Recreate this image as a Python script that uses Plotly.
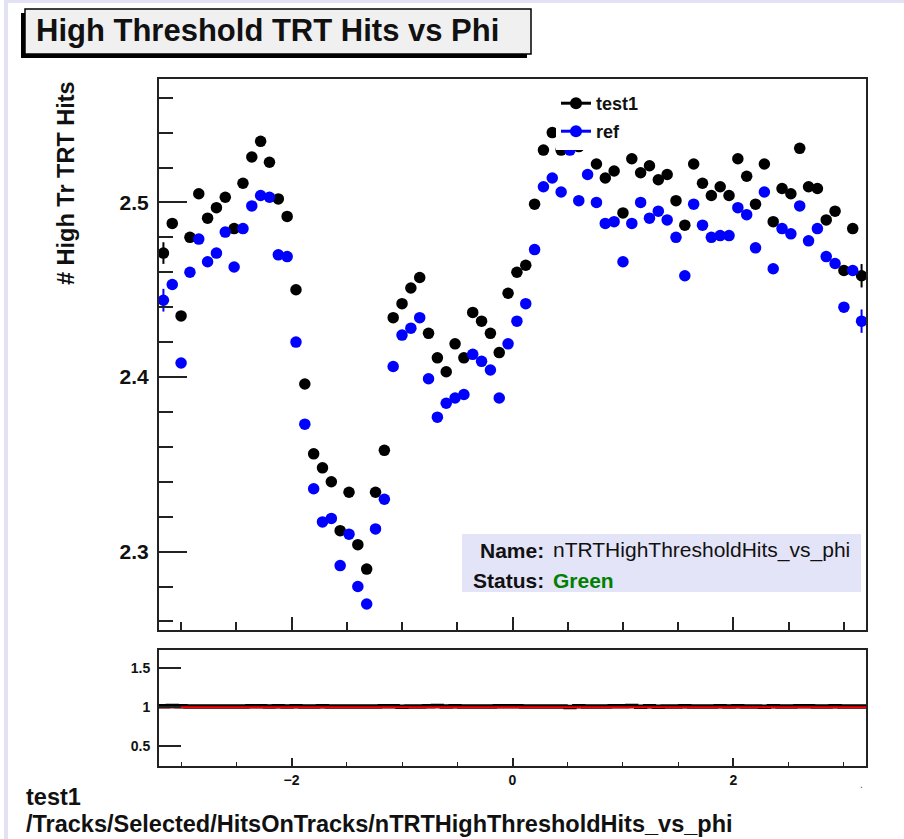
import plotly.graph_objects as go

# ---- histogram binning (phi) ----
PHI_MIN, PHI_MAX, N_BINS = -3.2, 3.2, 80
BIN_W = (PHI_MAX - PHI_MIN) / N_BINS
phi = [round(PHI_MIN + BIN_W * (i + 0.5), 4) for i in range(N_BINS)]
phi_edges = [round(PHI_MIN + BIN_W * i, 4) for i in range(N_BINS + 1)]

# ---- mean number of high-threshold TRT hits per phi bin ----
test1_vals = [
    2.471, 2.488, 2.435, 2.480, 2.505, 2.491, 2.497, 2.503, 2.485, 2.511,
    2.526, 2.535, 2.523, 2.502, 2.492, 2.450, 2.396, 2.356, 2.348, 2.340,
    2.312, 2.334, 2.304, 2.290, 2.334, 2.358, 2.434, 2.442, 2.451, 2.457,
    2.425, 2.411, 2.403, 2.419, 2.411, 2.437, 2.432, 2.425, 2.414, 2.448,
    2.460, 2.464, 2.499, 2.530, 2.540, 2.530, 2.537, 2.532, 2.535, 2.522,
    2.514, 2.518, 2.494, 2.525, 2.517, 2.521, 2.513, 2.516, 2.501, 2.487,
    2.522, 2.511, 2.504, 2.509, 2.504, 2.525, 2.515, 2.499, 2.522, 2.489,
    2.508, 2.505, 2.531, 2.509, 2.508, 2.490, 2.495, 2.461, 2.485, 2.458,
]
test1_errs = [
    0.0062, 0.0030, 0.0028, 0.0025, 0.0025, 0.0025, 0.0025, 0.0025, 0.0025, 0.0025,
    0.0025, 0.0025, 0.0025, 0.0025, 0.0025, 0.0025, 0.0025, 0.0025, 0.0025, 0.0025,
    0.0025, 0.0025, 0.0025, 0.0025, 0.0025, 0.0025, 0.0025, 0.0025, 0.0025, 0.0025,
    0.0025, 0.0025, 0.0025, 0.0025, 0.0025, 0.0025, 0.0025, 0.0025, 0.0025, 0.0025,
    0.0025, 0.0025, 0.0025, 0.0025, 0.0025, 0.0025, 0.0025, 0.0025, 0.0025, 0.0025,
    0.0025, 0.0025, 0.0025, 0.0025, 0.0025, 0.0025, 0.0025, 0.0025, 0.0025, 0.0025,
    0.0025, 0.0025, 0.0025, 0.0025, 0.0025, 0.0025, 0.0025, 0.0025, 0.0025, 0.0025,
    0.0025, 0.0025, 0.0025, 0.0025, 0.0025, 0.0025, 0.0025, 0.0028, 0.0030, 0.0067,
]
ref_vals = [
    2.444, 2.453, 2.408, 2.460, 2.479, 2.466, 2.471, 2.483, 2.463, 2.485,
    2.498, 2.504, 2.503, 2.470, 2.469, 2.420, 2.373, 2.336, 2.317, 2.319,
    2.292, 2.310, 2.280, 2.270, 2.313, 2.330, 2.406, 2.424, 2.428, 2.434,
    2.399, 2.377, 2.385, 2.388, 2.390, 2.413, 2.409, 2.404, 2.388, 2.419,
    2.432, 2.442, 2.473, 2.509, 2.514, 2.506, 2.530, 2.501, 2.516, 2.500,
    2.488, 2.489, 2.466, 2.488, 2.500, 2.491, 2.495, 2.490, 2.480, 2.458,
    2.499, 2.487, 2.480, 2.481, 2.481, 2.497, 2.493, 2.474, 2.506, 2.462,
    2.485, 2.482, 2.498, 2.478, 2.485, 2.469, 2.465, 2.440, 2.461, 2.432,
]
ref_errs = [
    0.0065, 0.0030, 0.0028, 0.0025, 0.0025, 0.0025, 0.0025, 0.0025, 0.0025, 0.0025,
    0.0025, 0.0025, 0.0025, 0.0025, 0.0025, 0.0025, 0.0025, 0.0025, 0.0025, 0.0025,
    0.0025, 0.0025, 0.0025, 0.0025, 0.0025, 0.0025, 0.0025, 0.0025, 0.0025, 0.0025,
    0.0025, 0.0025, 0.0025, 0.0025, 0.0025, 0.0025, 0.0025, 0.0025, 0.0025, 0.0025,
    0.0025, 0.0025, 0.0025, 0.0025, 0.0025, 0.0025, 0.0025, 0.0025, 0.0025, 0.0025,
    0.0025, 0.0025, 0.0025, 0.0025, 0.0025, 0.0025, 0.0025, 0.0025, 0.0025, 0.0025,
    0.0025, 0.0025, 0.0025, 0.0025, 0.0025, 0.0025, 0.0025, 0.0025, 0.0025, 0.0025,
    0.0025, 0.0025, 0.0025, 0.0025, 0.0025, 0.0025, 0.0025, 0.0028, 0.0030, 0.0067,
]

# ratio test1 / ref, drawn as a step histogram over the full phi range
ratio_vals = [t / r for t, r in zip(test1_vals, ref_vals)]
ratio_steps = ratio_vals + [ratio_vals[-1]]

Y_MAIN = [2.2551, 2.5707]
Y_RATIO = [0.25, 1.73]

W, H = 904, 839
FONT = "Liberation Sans"
MARKER = 11.5


def fx(px):
    return px / W


def fy(py):
    return 1 - py / H


fig = go.Figure()

fig.add_trace(go.Scatter(
    x=phi, y=test1_vals, mode="markers", name="test1", showlegend=False,
    marker=dict(color="black", size=MARKER),
    error_y=dict(type="data", array=test1_errs, color="black", thickness=2, width=0),
    xaxis="x", yaxis="y", hoverinfo="x+y",
))
fig.add_trace(go.Scatter(
    x=phi, y=ref_vals, mode="markers", name="ref", showlegend=False,
    marker=dict(color="#0000ff", size=MARKER),
    error_y=dict(type="data", array=ref_errs, color="#0000ff", thickness=2, width=0),
    xaxis="x", yaxis="y", hoverinfo="x+y",
))

# legend entries (marker with horizontal bar)
fig.add_trace(go.Scatter(
    x=[None], y=[None], mode="lines+markers", name="test1", legend="legend",
    line=dict(color="black", width=3), marker=dict(color="black", size=12),
    xaxis="x", yaxis="y",
))
fig.add_trace(go.Scatter(
    x=[None], y=[None], mode="lines+markers", name="ref", legend="legend2",
    line=dict(color="#0000ff", width=3), marker=dict(color="#0000ff", size=12),
    xaxis="x", yaxis="y",
))

# ratio panel
fig.add_trace(go.Scatter(
    x=phi_edges, y=ratio_steps, mode="lines", line=dict(color="black", width=4.5, shape="hv"),
    showlegend=False, xaxis="x2", yaxis="y2", hoverinfo="skip",
))
fig.add_trace(go.Scatter(
    x=[PHI_MIN, PHI_MAX], y=[1, 1], mode="lines", line=dict(color="#ff0000", width=2),
    showlegend=False, xaxis="x2", yaxis="y2", hoverinfo="skip",
))

frame = dict(showline=True, linecolor="#222222", linewidth=2, mirror=True,
             showgrid=False, zeroline=False, automargin=False)

fig.update_layout(
    width=W, height=H,
    margin=dict(l=0, r=0, t=0, b=0),
    paper_bgcolor="white", plot_bgcolor="white",
    font=dict(family=FONT, color="black"),
    xaxis=dict(
        domain=[fx(159), fx(866)], range=[PHI_MIN, PHI_MAX], anchor="y",
        showticklabels=False, ticks="inside", tick0=0, dtick=2, ticklen=13, tickwidth=2,
        tickcolor="#222222",
        minor=dict(dtick=0.5, ticks="inside", ticklen=8, tickwidth=1.5, tickcolor="#222222"),
        **frame,
    ),
    yaxis=dict(
        domain=[fy(630), fy(79)], range=Y_MAIN, anchor="x",
        ticks="inside", tick0=0, dtick=0.1, ticklen=28, tickwidth=2, tickcolor="#222222",
        minor=dict(dtick=0.02, ticks="inside", ticklen=14, tickwidth=1.5, tickcolor="#222222"),
        tickformat=".1f",
        tickfont=dict(family=FONT, size=21, weight="bold", color="#111111"),
        ticklabelstandoff=4,
        **frame,
    ),
    xaxis2=dict(
        domain=[fx(159), fx(866)], range=[PHI_MIN, PHI_MAX], anchor="y2",
        ticks="inside", tick0=0, dtick=2, ticklen=8, tickwidth=1.5, tickcolor="#222222",
        minor=dict(dtick=0.5, ticks="inside", ticklen=4, tickwidth=1, tickcolor="#222222"),
        tickfont=dict(family=FONT, size=14, weight="bold", color="#111111"),
        ticklabelstandoff=0,
        **frame,
    ),
    yaxis2=dict(
        domain=[fy(766), fy(650)], range=Y_RATIO, anchor="x2",
        ticks="inside", tickvals=[0.5, 1, 1.5], ticktext=["0.5", "1", "1.5"],
        ticklen=22, tickwidth=2, tickcolor="#222222",
        tickfont=dict(family=FONT, size=14, weight="bold", color="#111111"),
        ticklabelstandoff=4,
        **frame,
    ),
    legend=dict(
        x=fx(556), y=fy(85), xanchor="left", yanchor="top",
        bgcolor="white", borderwidth=0,
        font=dict(family=FONT, size=18, weight="bold", color="#111111"),
    ),
    legend2=dict(
        x=fx(556), y=fy(113), xanchor="left", yanchor="top",
        bgcolor="white", borderwidth=0,
        font=dict(family=FONT, size=18, weight="bold", color="#111111"),
    ),
)

shapes = [
    # page border strips
    dict(type="rect", xref="paper", yref="paper", x0=fx(4), x1=fx(8), y0=0, y1=1,
         fillcolor="#e2e2f4", line=dict(width=0), layer="below"),
    dict(type="rect", xref="paper", yref="paper", x0=fx(4), x1=1, y0=fy(3), y1=1,
         fillcolor="#e2e2f4", line=dict(width=0), layer="below"),
    # title pave: shadow then box
    dict(type="rect", xref="paper", yref="paper", x0=fx(21), x1=fx(527), y0=fy(58), y1=fy(13),
         fillcolor="black", line=dict(width=0)),
    dict(type="rect", xref="paper", yref="paper", x0=fx(25), x1=fx(531), y0=fy(54), y1=fy(9),
         fillcolor="#f0f0f0", line=dict(color="black", width=1.5)),
    # info box
    dict(type="rect", xref="paper", yref="paper", x0=fx(462), x1=fx(861), y0=fy(592), y1=fy(534),
         fillcolor="#e4e4f8", line=dict(width=0), layer="above"),
]

annotations = [
    dict(text="<b>High Threshold TRT Hits vs Phi</b>", x=fx(34), y=fy(31),
         xanchor="left", yanchor="middle", font=dict(size=31, color="#111111")),
    dict(text="<b># High Tr TRT Hits</b>", x=fx(66), y=fy(79), textangle=-90,
         xanchor="center", yanchor="top", font=dict(size=23.5, color="#111111")),
    dict(text="<b>Name:</b>", x=fx(546), y=fy(550), xanchor="right", yanchor="middle",
         font=dict(size=21, color="#111111")),
    dict(text="nTRTHighThresholdHits_vs_phi", x=fx(551), y=fy(550), xanchor="left",
         yanchor="middle", font=dict(size=21, color="#111111")),
    dict(text="<b>Status:</b>", x=fx(546), y=fy(580), xanchor="right", yanchor="middle",
         font=dict(size=21, color="#111111")),
    dict(text="<b>Green</b>", x=fx(551), y=fy(580), xanchor="left", yanchor="middle",
         font=dict(size=21, color="#008000")),
    dict(text="<b>test1</b>", x=fx(24), y=fy(797), xanchor="left", yanchor="middle",
         font=dict(size=23.5, color="#111111")),
    dict(text="<b>/Tracks/Selected/HitsOnTracks/nTRTHighThresholdHits_vs_phi</b>",
         x=fx(24), y=fy(824), xanchor="left", yanchor="middle",
         font=dict(size=23.5, color="#111111")),
    dict(text=".", x=fx(861), y=fy(784), xanchor="center", yanchor="middle",
         font=dict(size=10, color="#555555")),
]
for a in annotations:
    a.update(xref="paper", yref="paper", showarrow=False)

fig.update_layout(shapes=shapes, annotations=annotations)

fig.write_html("out.html")
